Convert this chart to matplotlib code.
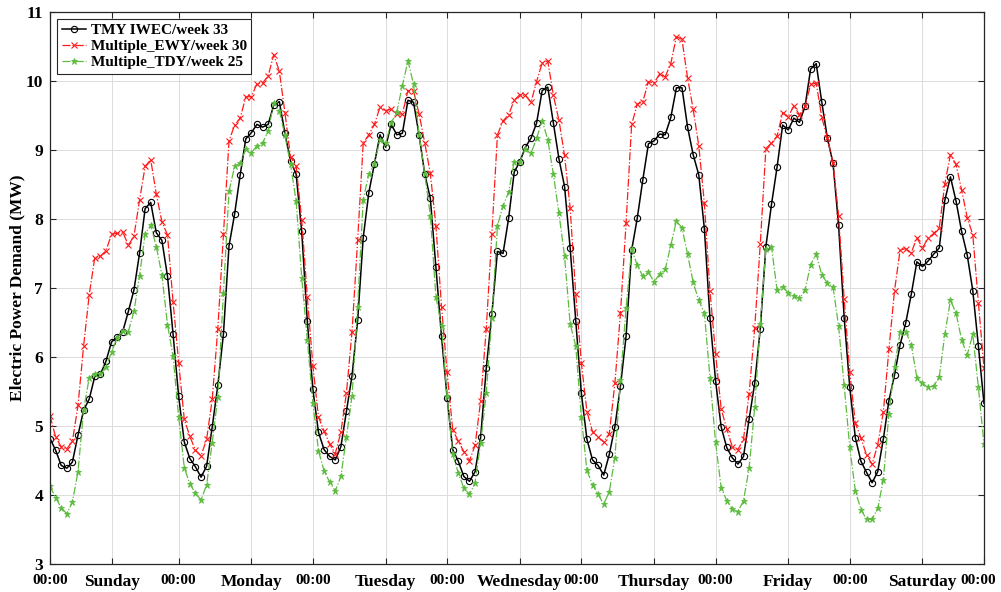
import numpy as np
import matplotlib
matplotlib.use("Agg")
import matplotlib.pyplot as plt
import matplotlib.transforms as mtransforms

plt.rcParams['font.family'] = ['Liberation Serif', 'DejaVu Serif']
plt.rcParams['font.weight'] = 'bold'

# hourly demand, Sunday 00:00 .. Saturday 23:00 (MW)
tmy_iwec = [
    4.82, 4.65, 4.43, 4.39, 4.48, 4.87, 5.23, 5.39, 5.72, 5.75, 5.94, 6.22,
    6.29, 6.37, 6.66, 6.97, 7.50, 8.15, 8.24, 7.80, 7.69, 7.17, 6.33, 5.43,
    4.77, 4.53, 4.41, 4.26, 4.42, 4.99, 5.59, 6.33, 7.61, 8.07, 8.64, 9.16,
    9.25, 9.37, 9.33, 9.37, 9.65, 9.70, 9.24, 8.84, 8.65, 7.82, 6.52, 5.53,
    4.91, 4.66, 4.56, 4.51, 4.70, 5.22, 5.73, 6.53, 7.73, 8.38, 8.80, 9.22,
    9.04, 9.37, 9.22, 9.24, 9.72, 9.69, 9.21, 8.65, 8.30, 7.30, 6.30, 5.41,
    4.66, 4.49, 4.27, 4.20, 4.34, 4.84, 5.84, 6.62, 7.53, 7.50, 8.01, 8.68,
    8.83, 9.04, 9.17, 9.39, 9.86, 9.91, 9.39, 8.87, 8.47, 7.58, 6.52, 5.48,
    4.81, 4.51, 4.43, 4.29, 4.59, 4.99, 5.58, 6.30, 7.55, 8.01, 8.57, 9.09,
    9.13, 9.23, 9.22, 9.47, 9.90, 9.90, 9.33, 8.93, 8.64, 7.86, 6.57, 5.66,
    4.99, 4.69, 4.54, 4.45, 4.56, 5.10, 5.62, 6.41, 7.60, 8.21, 8.75, 9.36,
    9.29, 9.46, 9.40, 9.63, 10.17, 10.25, 9.69, 9.17, 8.81, 7.91, 6.57, 5.56,
    4.83, 4.49, 4.33, 4.18, 4.34, 4.81, 5.37, 5.74, 6.18, 6.49, 6.91, 7.38,
    7.31, 7.39, 7.49, 7.58, 8.27, 8.61, 8.26, 7.82, 7.48, 6.96, 6.16, 5.33,
]
multiple_ewy = [
    5.15, 4.84, 4.70, 4.67, 4.78, 5.30, 6.16, 6.90, 7.44, 7.46, 7.54, 7.78,
    7.79, 7.81, 7.62, 7.75, 8.27, 8.76, 8.86, 8.36, 7.96, 7.77, 6.80, 5.92,
    5.10, 4.85, 4.65, 4.57, 4.81, 5.39, 6.41, 7.78, 9.13, 9.36, 9.46, 9.77,
    9.77, 9.96, 9.97, 10.07, 10.38, 10.14, 9.54, 8.90, 8.77, 7.99, 6.87, 5.87,
    5.13, 4.93, 4.74, 4.60, 4.91, 5.48, 6.37, 7.69, 9.10, 9.22, 9.37, 9.62,
    9.57, 9.59, 9.52, 9.52, 9.86, 9.85, 9.52, 9.10, 8.66, 7.90, 6.73, 5.78,
    4.95, 4.78, 4.63, 4.50, 4.72, 5.37, 6.41, 7.78, 9.22, 9.42, 9.51, 9.72,
    9.80, 9.79, 9.69, 9.99, 10.26, 10.29, 9.79, 9.43, 8.92, 8.16, 6.91, 5.92,
    5.21, 4.92, 4.84, 4.77, 4.89, 5.62, 6.64, 7.94, 9.37, 9.66, 9.70, 9.99,
    9.97, 10.10, 10.06, 10.25, 10.64, 10.60, 10.04, 9.59, 9.06, 8.23, 6.96, 6.05,
    5.25, 4.96, 4.70, 4.66, 4.81, 5.47, 6.42, 7.64, 9.02, 9.10, 9.20, 9.54,
    9.48, 9.64, 9.51, 9.63, 9.95, 9.97, 9.47, 9.17, 8.81, 8.05, 6.84, 5.78,
    5.04, 4.83, 4.58, 4.45, 4.73, 5.20, 6.11, 6.96, 7.55, 7.57, 7.51, 7.73,
    7.58, 7.72, 7.79, 7.87, 8.51, 8.93, 8.79, 8.42, 8.02, 7.77, 6.79, 5.84,
]
multiple_tdy = [
    4.13, 3.96, 3.82, 3.73, 3.90, 4.34, 5.23, 5.70, 5.76, 5.75, 5.86, 6.07,
    6.28, 6.38, 6.37, 6.66, 7.18, 7.78, 7.91, 7.60, 7.19, 6.47, 6.01, 5.13,
    4.40, 4.16, 4.03, 3.93, 4.15, 4.76, 5.42, 6.93, 8.40, 8.76, 8.81, 9.01,
    8.96, 9.06, 9.10, 9.27, 9.68, 9.57, 9.21, 8.79, 8.26, 7.15, 6.25, 5.33,
    4.64, 4.35, 4.19, 4.06, 4.27, 4.84, 5.44, 6.73, 8.28, 8.65, 8.80, 9.15,
    9.10, 9.39, 9.55, 9.93, 10.29, 9.95, 9.21, 8.65, 8.05, 6.87, 6.45, 5.43,
    4.59, 4.32, 4.10, 4.01, 4.18, 4.76, 5.48, 6.57, 7.90, 8.19, 8.39, 8.83,
    8.83, 9.01, 8.95, 9.17, 9.42, 9.15, 8.65, 8.08, 7.46, 6.48, 6.16, 5.13,
    4.36, 4.15, 4.01, 3.87, 4.05, 4.54, 5.67, 6.71, 7.56, 7.33, 7.17, 7.23,
    7.09, 7.20, 7.27, 7.62, 7.97, 7.87, 7.49, 7.08, 6.82, 6.64, 5.70, 4.77,
    4.11, 3.92, 3.80, 3.76, 3.92, 4.39, 5.27, 6.48, 7.56, 7.60, 6.97, 7.02,
    6.93, 6.89, 6.85, 6.97, 7.34, 7.49, 7.19, 7.07, 7.02, 6.45, 5.59, 4.69,
    4.06, 3.79, 3.65, 3.65, 3.81, 4.22, 5.18, 5.86, 6.36, 6.37, 6.18, 5.70,
    5.62, 5.56, 5.58, 5.71, 6.33, 6.82, 6.64, 6.25, 6.03, 6.33, 5.56, 4.74,
]

days = ['Sunday', 'Monday', 'Tuesday', 'Wednesday', 'Thursday', 'Friday', 'Saturday']
midnight_ticks = [1, 24, 48, 72, 96, 120, 144, 168]
day_ticks = [12, 37, 61, 85, 109, 133, 157]

hours = np.arange(1, len(tmy_iwec) + 1)

fig = plt.figure(figsize=(10.01, 5.92), dpi=100)
ax = fig.add_axes([0.050, 0.047, 0.933, 0.933])

ax.plot(hours, tmy_iwec, '-o', color='black', lw=1.1, ms=4.5, mfc='none', mew=0.8,
        label='TMY IWEC/week 33')
ax.plot(hours, multiple_ewy, '-.x', color='#ff1a1a', lw=0.9, ms=3.8, mew=0.8,
        label='Multiple_EWY/week 30')
ax.plot(hours, multiple_tdy, '-.*', color='#5dbb3f', lw=0.9, ms=5, mew=0.6,
        label='Multiple_TDY/week 25')

ax.set_xlim(1, 168)
ax.set_ylim(3, 11)

ax.tick_params(direction='in', top=True, right=True, length=4, width=0.8,
               color='#262626')
ax.tick_params(axis='x', pad=7)
ax.tick_params(axis='y', pad=5)

ticks = sorted(midnight_ticks + day_ticks)
labels = []
for t in ticks:
    if t in midnight_ticks:
        labels.append('00:00')
    else:
        labels.append(days[day_ticks.index(t)])
ax.set_xticks(ticks, labels)
for t, lab in zip(ticks, ax.get_xticklabels()):
    lab.set_fontsize(11 if t in midnight_ticks else 12.5)
    lab.set_fontweight('bold')
# keep the last 00:00 inside the figure (after tick_params, which resets transforms)
last = ax.xaxis.get_major_ticks()[-1].label1
last.set_transform(last.get_transform() +
                   mtransforms.ScaledTranslation(-6 / 100, 0, fig.dpi_scale_trans))

ax.set_yticks(range(3, 12))
for lab in ax.get_yticklabels():
    lab.set_fontsize(12.5)
    lab.set_fontweight('bold')

ax.grid(True, color='#dcdcdc', lw=0.7)
for s in ax.spines.values():
    s.set_color('#262626')
    s.set_linewidth(0.9)

ax.set_ylabel('Electric Power Demand (MW)', fontsize=12.5, fontweight='bold', labelpad=0)

leg = ax.legend(loc='upper left', fontsize=11, frameon=True, fancybox=False,
                edgecolor='#262626', framealpha=1, borderaxespad=0.45,
                labelspacing=0.15, handlelength=1.6, handletextpad=0.3,
                borderpad=0.3)
leg.get_frame().set_linewidth(0.8)
for txt in leg.get_texts():
    txt.set_fontweight('bold')

fig.savefig('out.png', dpi=100)
